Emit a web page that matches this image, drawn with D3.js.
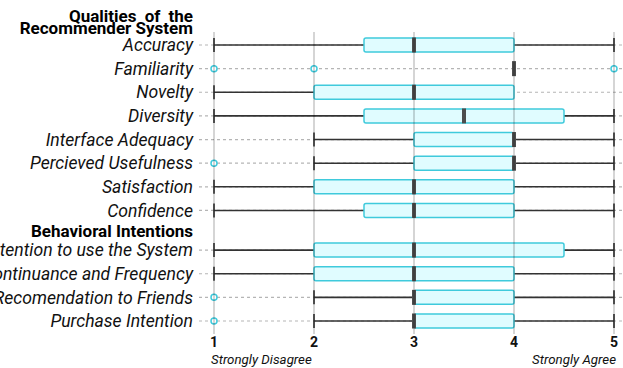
<!DOCTYPE html>
<html lang="en">
<head>
<meta charset="utf-8">
<title>Recommender evaluation</title>
<script src="https://cdnjs.cloudflare.com/ajax/libs/d3/7.8.5/d3.min.js"></script>
<style>
  body { margin: 0; background: #fff; }
  svg { display: block; font-family: Roboto, "Noto Sans", sans-serif; }
  .row-label { font-size: 17.6px; font-style: italic; fill: #111; }
  .group-title { font-size: 17px; font-weight: bold; fill: #000; }
  .tick-label { font-size: 14px; font-weight: bold; fill: #111; }
  .end-label { font-size: 13.3px; font-style: italic; fill: #111; }
</style>
</head>
<body>
<div id="chart"></div>
<script>
// rows, top group first, then the behavioural group
const categories = [
  "Accuracy", "Familiarity", "Novelty", "Diversity",
  "Interface Adequacy", "Percieved Usefulness", "Satisfaction", "Confidence",
  "Intention to use the System", "Continuance and Frequency",
  "Recomendation to Friends", "Purchase Intention"
];
const groupOf = [0, 0, 0, 0, 0, 0, 0, 0, 1, 1, 1, 1];
// five number summary per row (null = no whisker)
const mins    = [1, null, 1, 1, 2, 2, 1, 1, 1, 1, 2, 2];
const q1s     = [2.5, 4, 2, 2.5, 3, 3, 2, 2.5, 2, 2, 3, 3];
const medians = [3, 4, 3, 3.5, 4, 4, 3, 3, 3, 3, 3, 3];
const q3s     = [4, 4, 4, 4.5, 4, 4, 4, 4, 4.5, 4, 4, 4];
const maxs    = [5, null, 4, 5, 5, 5, 5, 5, 5, 5, 5, 5];
const outliers = [[], [1, 2, 5], [], [], [], [1], [], [], [], [], [1], [1]];
const ticks = [1, 2, 3, 4, 5];
const scaleEnds = ["Strongly Disagree", "Strongly Agree"];

const width = 623, height = 368;
const groupGap = 16;
const boxH = 14;

const svg = d3.select("#chart").append("svg")
  .attr("width", width).attr("height", height);

const x = d3.scaleLinear().domain([1, 5]).range([214, 614]);
const yBase = d3.scalePoint().domain(categories).range([45, 305]);
const y = (name) => yBase(name) + groupOf[categories.indexOf(name)] * groupGap;

const rows = categories.map((c, i) => ({
  name: c, min: mins[i], q1: q1s[i], med: medians[i], q3: q3s[i], max: maxs[i], out: outliers[i]
}));

// dashed row guides
svg.append("g").selectAll("line").data(rows).join("line")
  .attr("x1", 199).attr("x2", width)
  .attr("y1", d => y(d.name)).attr("y2", d => y(d.name))
  .attr("stroke", "#b5b5b5").attr("stroke-width", 1.2)
  .attr("stroke-dasharray", "3,3");

// row labels
svg.append("g").selectAll("text").data(rows).join("text")
  .attr("class", "row-label")
  .attr("x", 193).attr("y", d => y(d.name))
  .attr("dy", "0.35em").attr("text-anchor", "end")
  .text(d => d.name);

// group titles
svg.append("text").attr("class", "group-title")
  .attr("x", 193).attr("y", 22).attr("text-anchor", "end")
  .attr("word-spacing", "4px").text("Qualities of the");
svg.append("text").attr("class", "group-title")
  .attr("x", 193).attr("y", 34).attr("text-anchor", "end")
  .text("Recommender System");
svg.append("text").attr("class", "group-title")
  .attr("x", 193).attr("y", 237).attr("text-anchor", "end")
  .text("Behavioral Intentions");

const boxes = svg.append("g").selectAll("g").data(rows).join("g")
  .attr("transform", d => `translate(0,${y(d.name)})`);

// whiskers
boxes.filter(d => d.min !== null && d.min < d.q1).append("line")
  .attr("x1", d => x(d.min)).attr("x2", d => x(d.q1))
  .attr("stroke", "#333").attr("stroke-width", 1.6);
boxes.filter(d => d.max !== null && d.max > d.q3).append("line")
  .attr("x1", d => x(d.q3)).attr("x2", d => x(d.max))
  .attr("stroke", "#333").attr("stroke-width", 1.6);
boxes.filter(d => d.min !== null && d.min < d.q1).append("line")
  .attr("x1", d => x(d.min)).attr("x2", d => x(d.min))
  .attr("y1", -boxH / 2).attr("y2", boxH / 2)
  .attr("stroke", "#333").attr("stroke-width", 1.6);
boxes.filter(d => d.max !== null && d.max > d.q3).append("line")
  .attr("x1", d => x(d.max)).attr("x2", d => x(d.max))
  .attr("y1", -boxH / 2).attr("y2", boxH / 2)
  .attr("stroke", "#333").attr("stroke-width", 1.6);

// boxes
boxes.filter(d => d.q3 > d.q1).append("rect")
  .attr("x", d => x(d.q1)).attr("width", d => x(d.q3) - x(d.q1))
  .attr("y", -boxH / 2).attr("height", boxH)
  .attr("rx", 2)
  .attr("fill", "#e0fcff").attr("stroke", "#3fcadc").attr("stroke-width", 1.5);

// medians
boxes.append("rect")
  .attr("x", d => x(d.med) - 2)
  .attr("width", 4)
  .attr("y", -boxH / 2 - 0.5).attr("height", boxH + 1)
  .attr("fill", "#4d4d4d");

// outliers
boxes.selectAll("circle").data(d => d.out).join("circle")
  .attr("cx", d => x(d)).attr("cy", 0).attr("r", 3)
  .attr("fill", "#fff").attr("stroke", "#3fcadc").attr("stroke-width", 1.5);

// vertical grid drawn on top, semi transparent
svg.append("g").selectAll("line").data(ticks).join("line")
  .attr("x1", d => x(d)).attr("x2", d => x(d))
  .attr("y1", 32).attr("y2", 334)
  .attr("stroke", "rgba(0,0,0,0.22)").attr("stroke-width", 1.5);

// tick labels
svg.append("g").selectAll("text").data(ticks).join("text")
  .attr("class", "tick-label")
  .attr("x", d => x(d)).attr("y", 347)
  .attr("text-anchor", "middle")
  .text(d => d);

svg.append("text").attr("class", "end-label")
  .attr("x", 211).attr("y", 364).text(scaleEnds[0]);
svg.append("text").attr("class", "end-label")
  .attr("x", 616).attr("y", 364).attr("text-anchor", "end").text(scaleEnds[1]);
</script>
</body>
</html>
